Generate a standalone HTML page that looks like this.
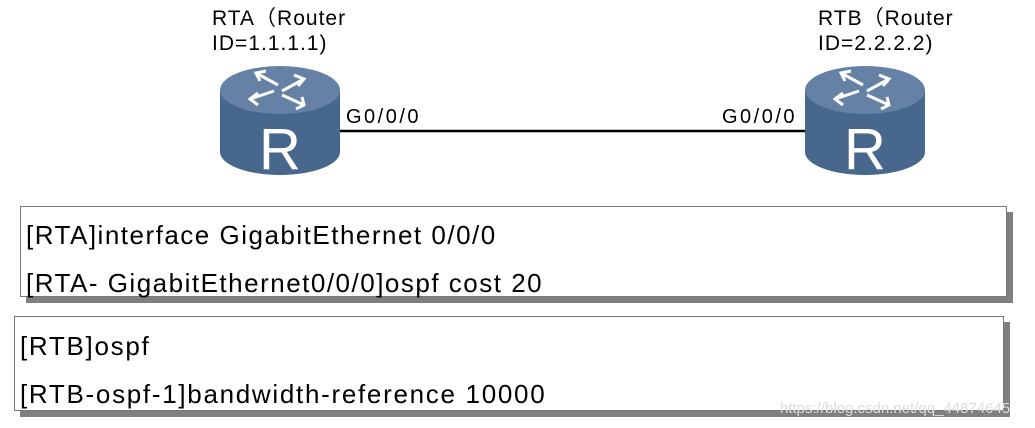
<!DOCTYPE html>
<html><head><style>
body{margin:0;width:1035px;height:428px;background:#fff;position:relative;overflow:hidden;font-family:"Liberation Sans","DejaVu Sans",sans-serif;}
.t{position:absolute;color:#000;white-space:nowrap;}
.box{position:absolute;background:#fff;border:1px solid #777;box-shadow:6px 6px 0 #808080;}
.c{font-size:26px;letter-spacing:1.5px}
</style></head><body>
<div class="t" style="left:212px;top:6px;font-size:21px;line-height:25px;letter-spacing:1px">RTA（Router<br>ID=1.1.1.1)</div>
<div class="t" style="left:818px;top:6px;font-size:21px;line-height:25px;letter-spacing:1px">RTB（Router<br>ID=2.2.2.2)</div>
<div class="t" style="left:346px;top:106px;font-size:20px;letter-spacing:2.5px">G0/0/0</div>
<div class="t" style="left:722px;top:106px;font-size:20px;letter-spacing:2.5px">G0/0/0</div>
<svg width="1035" height="200" style="position:absolute;left:0;top:0">
<line x1="340" y1="131" x2="810" y2="131" stroke="#000" stroke-width="2.5"/>
<defs>
<g id="r">
<path d="M0,25 L0,87 A60,23 0 0 0 120,87 L120,25 Z" fill="#48678c"/>
<ellipse cx="60" cy="25" rx="60" ry="24" fill="#6582a6"/>
<g fill="none" stroke="#fff" stroke-width="3">
<path d="M36,8 L58,20 M46,6 L36,8 L40,16"/>
<path d="M84,14 L62,26 M74,10 L84,14 L78,21"/>
<path d="M30,34 L54,26 M38,40 L30,34 L38,28"/>
<path d="M84,40 L62,30 M76,44 L84,40 L82,32"/>
</g>
<text x="60" y="104" font-size="58" fill="#fff" text-anchor="middle" font-family="Liberation Sans,sans-serif">R</text>
</g>
</defs>
<use href="#r" x="220" y="65"/>
<use href="#r" x="805" y="65"/>
</svg>
<div class="box" style="left:20px;top:206px;width:985px;height:89px"></div>
<div class="t c" style="left:26px;top:220px">[RTA]interface GigabitEthernet 0/0/0</div>
<div class="t c" style="left:26px;top:268px">[RTA- GigabitEthernet0/0/0]ospf cost 20</div>
<div class="box" style="left:14px;top:316px;width:988px;height:93px"></div>
<div class="t c" style="left:20px;top:331px;letter-spacing:1.7px">[RTB]ospf</div>
<div class="t c" style="left:20px;top:379px;letter-spacing:1.7px">[RTB-ospf-1]bandwidth-reference 10000</div>
<div class="t" style="left:780px;top:400px;font-size:15px;color:#ddd">https://blog.csdn.net/qq_44874645</div>
</body></html>
